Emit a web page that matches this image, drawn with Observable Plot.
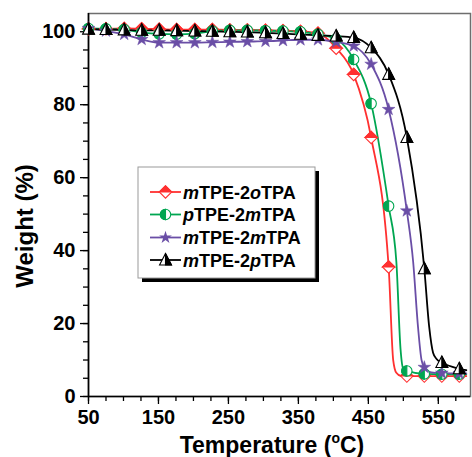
<!DOCTYPE html>
<html><head><meta charset="utf-8">
<script src="https://cdn.jsdelivr.net/npm/d3@7"></script>
<script src="https://cdn.jsdelivr.net/npm/@observablehq/plot@0.6"></script>
<style>
body{margin:0;background:#fff;}
#wrap{position:relative;width:472px;height:457px;}
</style></head><body><div id="wrap"></div>
<script>
// ---- data ----
const markerTemps = [50, 75, 101, 126, 151, 176, 202, 227, 252, 277, 303, 328, 353, 378, 404, 429, 454, 479, 505, 530, 555, 580];
const seriesNames = ["mTPE-2oTPA", "pTPE-2mTPA", "mTPE-2mTPA", "mTPE-2pTPA"];
const seriesParts = [["m","TPE-2","o","TPA"], ["p","TPE-2","m","TPA"], ["m","TPE-2","m","TPA"], ["m","TPE-2","p","TPA"]];
const seriesColors = ["#ff3030", "#00a651", "#6a4ea6", "#000000"];
const wRed    = [100.8, 100.8, 100.9, 100.8, 100.7, 100.6, 100.6, 100.6, 100.5, 100.5, 100.4, 100.3, 100.1, 99.6, 95.5, 88.3, 71.0, 35.5, 5.6, 5.6, 5.6, 5.6];
const wGreen  = [100.9, 100.8, 100.6, 99.8, 99.4, 99.3, 99.5, 100.2, 100.4, 100.4, 100.3, 100.2, 100.0, 99.3, 98.0, 92.4, 80.3, 52.2, 7.0, 6.2, 6.1, 6.1];
const wPurple = [100.9, 100.2, 99.3, 97.9, 97.0, 97.0, 97.0, 97.1, 97.2, 97.3, 97.4, 97.6, 97.8, 97.8, 97.2, 96.1, 91.1, 78.7, 50.9, 8.0, 6.4, 6.3];
const wBlack  = [100.7, 100.6, 100.5, 100.4, 100.4, 100.3, 100.2, 100.1, 100.0, 99.9, 99.7, 99.5, 99.3, 99.0, 98.8, 98.4, 95.6, 88.3, 71.0, 35.0, 9.3, 7.6];
// extra points of the traced curves (between markers)
const kneeTRed    = [485.5, 490, 496, 590];   const kneeWRed    = [10, 6.5, 5.7, 5.6];
const kneeTGreen  = [490, 496, 500, 590];     const kneeWGreen  = [37, 13, 7.5, 6.1];
const kneeTPurple = [514, 521, 526, 540, 590]; const kneeWPurple = [37, 19, 10, 6.6, 6.3];
const kneeTBlack  = [537, 542.5, 547.5, 590]; const kneeWBlack  = [19, 12, 10.3, 7.2];
const xMajor = [50, 150, 250, 350, 450, 550];
const xMinor = d3.range(50, 596, 25);
const yMajor = [0, 20, 40, 60, 80, 100];
const yMinor = d3.range(0, 105, 5);

// ---- symbols ----
const rad = s => Math.sqrt(s / Math.PI);
const diamondFull = {draw(c, s){const r=rad(s); c.moveTo(0,-r); c.lineTo(r,0); c.lineTo(0,r); c.lineTo(-r,0); c.closePath();}};
const diamondHalf = {draw(c, s){const r=rad(s); c.moveTo(-r,0); c.lineTo(0,-r); c.lineTo(r,0); c.closePath();}};
const circleFull  = {draw(c, s){const r=rad(s); c.moveTo(r,0); c.arc(0,0,r,0,2*Math.PI); c.closePath();}};
const circleHalf  = {draw(c, s){const r=rad(s); c.moveTo(0,-r); c.arc(0,0,r,-Math.PI/2,Math.PI/2,true); c.closePath();}};
const triFull     = {draw(c, s){const r=rad(s); c.moveTo(0,-r); c.lineTo(0.9*r,0.75*r); c.lineTo(-0.9*r,0.75*r); c.closePath();}};
const triHalf     = {draw(c, s){const r=rad(s); c.moveTo(0,-r); c.lineTo(0.9*r,0.75*r); c.lineTo(0,0.75*r); c.closePath();}};

const weights = [wRed, wGreen, wPurple, wBlack];
const kneesT = [kneeTRed, kneeTGreen, kneeTPurple, kneeTBlack];
const kneesW = [kneeWRed, kneeWGreen, kneeWPurple, kneeWBlack];
const markerData = weights.map(ws => markerTemps.map((t, i) => ({t, w: ws[i]})));
const lineData = weights.map((ws, k) =>
  markerData[k].concat(kneesT[k].map((t, i) => ({t, w: kneesW[k][i]}))).sort((a, b) => a.t - b.t));

const symFull = [diamondFull, circleFull, null, triFull];
const symHalf = [diamondHalf, circleHalf, null, triHalf];
const symR = [6.2, 5.2, 4.0, 6.6];

const marks = [
  Plot.frame({stroke: "#6e6e6e", strokeWidth: 1.5}),
  Plot.axisX(xMinor, {tickSize: 5, tickFormat: () => "", label: null, strokeWidth: 1.3}),
  Plot.axisX(xMajor, {tickSize: 8, tickPadding: 5, fontSize: 20, fontWeight: "bold", label: null, strokeWidth: 1.3, fill: "black"}),
  Plot.axisY(yMinor, {tickSize: 5, tickFormat: () => "", label: null, strokeWidth: 1.3}),
  Plot.axisY(yMajor, {tickSize: 8, tickPadding: 5, fontSize: 20, fontWeight: "bold", label: null, strokeWidth: 1.3, fill: "black"}),
  Plot.ruleX([50], {stroke: "black", strokeWidth: 1.6}),
  Plot.ruleY([0], {stroke: "black", strokeWidth: 1.6})
];
for (let k = 0; k < 4; k++) {
  marks.push(Plot.line(lineData[k], {x: "t", y: "w", stroke: seriesColors[k], strokeWidth: 1.8, curve: "monotone-x"}));
}
for (let k = 0; k < 4; k++) {
  if (k === 2) {
    marks.push(Plot.dot(markerData[k], {x: "t", y: "w", symbol: "star", r: symR[k], fill: seriesColors[k], stroke: seriesColors[k], strokeWidth: 0.5}));
  } else {
    marks.push(Plot.dot(markerData[k], {x: "t", y: "w", symbol: symFull[k], r: symR[k], fill: "white", stroke: seriesColors[k], strokeWidth: 1.1}));
    marks.push(Plot.dot(markerData[k], {x: "t", y: "w", symbol: symHalf[k], r: symR[k], fill: seriesColors[k], stroke: seriesColors[k], strokeWidth: 1.1}));
  }
}

const plot = Plot.plot({
  width: 472, height: 457,
  marginLeft: 88, marginRight: 2, marginTop: 13, marginBottom: 61,
  x: {domain: [50, 596]},
  y: {domain: [0, 105]},
  style: {fontFamily: "'Liberation Sans', Arial, sans-serif", background: "white", color: "black"},
  marks
});
document.getElementById("wrap").appendChild(plot);

// ---- titles & legend ----
const svg = d3.select(plot);
const font = "'Liberation Sans', Arial, sans-serif";
const xt = svg.append("text").attr("x", 272).attr("y", 453).attr("text-anchor", "middle")
  .attr("font-family", font).attr("font-size", 23).attr("font-weight", "bold").attr("fill", "black");
xt.append("tspan").text("Temperature (");
xt.append("tspan").attr("font-size", 14).attr("dy", -10).text("o");
xt.append("tspan").attr("dy", 10).text("C)");
svg.append("text").attr("transform", "translate(33,226) rotate(-90)").attr("text-anchor", "middle")
  .attr("font-family", font).attr("font-size", 24).attr("font-weight", "bold").attr("fill", "black").text("Weight (%)");

const lg = svg.append("g");
lg.append("rect").attr("x", 142).attr("y", 171).attr("width", 177).attr("height", 111).attr("fill", "black");
lg.append("rect").attr("x", 138).attr("y", 167).attr("width", 177).attr("height", 111).attr("fill", "white").attr("stroke", "#9a9a9a").attr("stroke-width", 1);
const rowsY = [192, 214.5, 237.5, 260];
for (let k = 0; k < 4; k++) {
  const y = rowsY[k];
  lg.append("line").attr("x1", 150).attr("x2", 181).attr("y1", y).attr("y2", y).attr("stroke", seriesColors[k]).attr("stroke-width", 1.8);
  const sz = Math.PI * symR[k] * symR[k];
  if (k === 2) {
    lg.append("path").attr("transform", `translate(165.5,${y})`).attr("d", d3.symbol(d3.symbolStar, sz)()).attr("fill", seriesColors[k]);
  } else {
    lg.append("path").attr("transform", `translate(165.5,${y})`).attr("d", d3.symbol(symFull[k], sz)()).attr("fill", "white").attr("stroke", seriesColors[k]).attr("stroke-width", 1.1);
    lg.append("path").attr("transform", `translate(165.5,${y})`).attr("d", d3.symbol(symHalf[k], sz)()).attr("fill", seriesColors[k]).attr("stroke", seriesColors[k]).attr("stroke-width", 1.1);
  }
  const t = lg.append("text").attr("x", 183).attr("y", y + 6.5).attr("text-anchor", "start").attr("font-family", font).attr("font-size", 18).attr("font-weight", "bold").attr("fill", "black");
  seriesParts[k].forEach((p, i) => t.append("tspan").attr("font-style", i % 2 === 0 ? "italic" : "normal").text(p));
}
</script></body></html>
